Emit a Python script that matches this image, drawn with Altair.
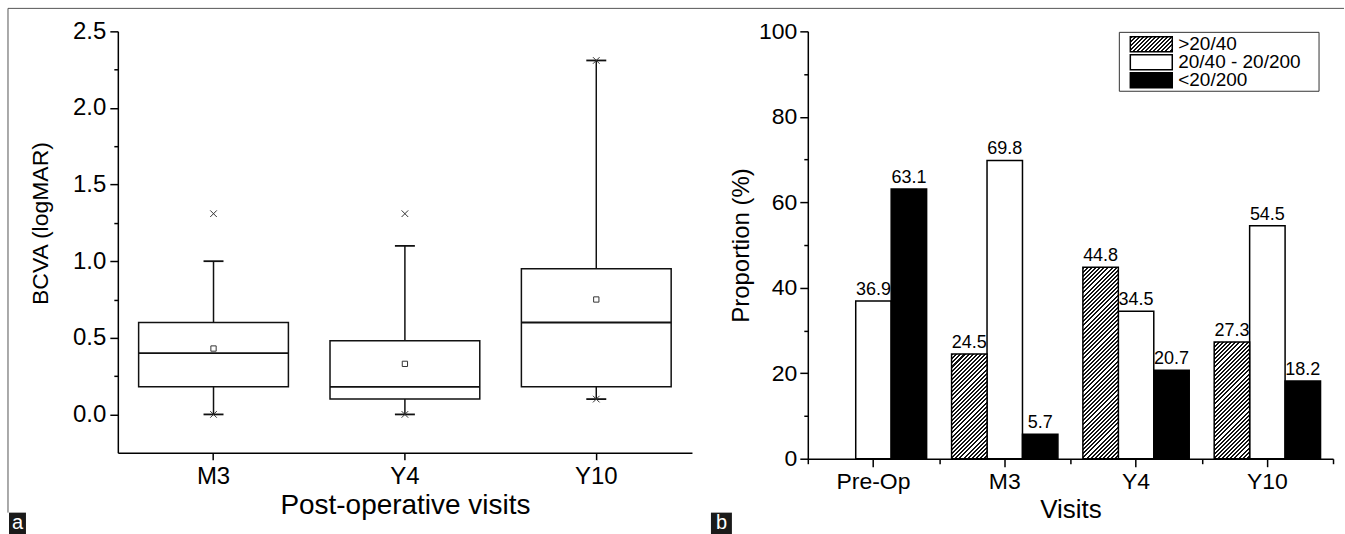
import math
import altair as alt
import pandas as pd

FONT = "Liberation Sans"

# ---------------- Panel a : box statistics ----------------
visits_a = ["M3", "Y4", "Y10"]
q1 = [0.18, 0.10, 0.18]
median = [0.40, 0.18, 0.60]
q3 = [0.60, 0.48, 0.95]
mean = [0.43, 0.33, 0.75]
whisker_low = [0.0, 0.0, 0.10]
whisker_high = [1.0, 1.10, 2.31]
cross_visit = ["M3", "M3", "Y4", "Y4", "Y10", "Y10"]
cross_value = [0.0, 1.31, 0.0, 1.31, 0.10, 2.31]
y_ticks_a = [0.0, 0.5, 1.0, 1.5, 2.0, 2.5]
y_minor_a = [0.25, 0.75, 1.25, 1.75, 2.25]

# ---------------- Panel b : grouped bars ----------------
visits_b = ["Pre-Op", "M3", "Y4", "Y10"]
series = [">20/40", "20/40 - 20/200", "<20/200"]
good = [None, 24.5, 44.8, 27.3]
mid = [36.9, 69.8, 34.5, 54.5]
poor = [63.1, 5.7, 20.7, 18.2]
y_ticks_b = [0, 20, 40, 60, 80, 100]
y_minor_b = [10, 30, 50, 70, 90]

# ---------------- layout constants ----------------
W_A, H_A = 575, 422
W_B, H_B = 526, 428
X_PAD_OUT = 0.352
BAR_W = W_B / len(visits_b) / (len(series) + 2 * X_PAD_OUT)
BOX_W = 150
CAP_W = 20
INK = "#111111"


def hatch(w, h, period=2.9):
    """diagonal '/' stripes as a hard-stop linear gradient for a w x h rect"""
    k = (w + h) / (w * w + h * h)
    n = max(1, round((w + h) / math.sqrt(2) / period))
    stops = []
    for i in range(n):
        a, b, c = i / n, (i + 0.5) / n, (i + 1) / n
        stops += [
            {"offset": a, "color": INK},
            {"offset": b, "color": INK},
            {"offset": b, "color": "#ffffff"},
            {"offset": c, "color": "#ffffff"},
        ]
    return {"gradient": "linear", "x1": 0, "y1": 0, "x2": k * w, "y2": k * h, "stops": stops}


# ======================= Panel a =======================
box_df = pd.DataFrame({
    "visit": visits_a, "q1": q1, "median": median, "q3": q3, "mean": mean,
    "lo": whisker_low, "hi": whisker_high,
})
cross_df = pd.DataFrame({"visit": cross_visit, "value": cross_value})
one = pd.DataFrame({"d": [0]})

xa = alt.X("visit:N", sort=visits_a,
           scale=alt.Scale(domain=visits_a, paddingInner=0, paddingOuter=0),
           axis=alt.Axis(title="Post-operative visits", labelAngle=0, tickSize=7,
                         labelPadding=5, titlePadding=3, labelFontSize=24,
                         titleFontSize=28))
ya_scale = alt.Scale(domain=[-0.25, 2.5], nice=False, zero=False)


def ya(field, axis=None):
    return alt.Y(field, type="quantitative", scale=ya_scale, axis=axis)


y_major_a = alt.Axis(values=y_ticks_a, format=".1f", title="BCVA (logMAR)", tickSize=8,
                     labelPadding=4, titlePadding=20, orient="left", labelFontSize=24,
                     titleFontSize=23, titleY=192)
y_minor_a = alt.Axis(values=y_minor_a, labels=False, domain=False, tickSize=4, title=None,
                     orient="left")

base_a = alt.Chart(box_df)
w_lo = base_a.mark_rule(color=INK, strokeWidth=1.5).encode(x=xa, y=ya("lo"), y2="q1")
w_hi = base_a.mark_rule(color=INK, strokeWidth=1.5).encode(x=xa, y=ya("q3"), y2="hi")
boxes = base_a.mark_bar(size=BOX_W, fill="white", stroke=INK, strokeWidth=1.5).encode(
    x=xa, y=ya("q1", y_major_a), y2="q3")
med = base_a.mark_tick(size=BOX_W, thickness=1.8, color=INK, opacity=1).encode(
    x=xa, y=ya("median"))
caps = base_a.transform_fold(["lo", "hi"], as_=["k", "v"]).mark_tick(
    size=CAP_W, thickness=1.8, color=INK, opacity=1).encode(x=xa, y=ya("v"))
means = base_a.mark_point(shape="square", size=28, filled=False, color="#333",
                          strokeWidth=1, opacity=1).encode(x=xa, y=ya("mean", y_minor_a))
crosses = alt.Chart(cross_df).mark_point(shape="M-1,-1L1,1M-1,1L1,-1", size=44, filled=False,
                                         color="#333", strokeWidth=1, opacity=1).encode(
    x=xa, y=ya("value"))

# decorations (figure frame + panel tag)
frame_top = alt.Chart(one).mark_rule(color="#555", strokeWidth=1).encode(
    x=alt.value(-110), x2=alt.value(1228), y=alt.value(-23))
frame_left = alt.Chart(one).mark_rule(color="#555", strokeWidth=1).encode(
    x=alt.value(-110), y=alt.value(-23), y2=alt.value(482))
tag_a = alt.Chart(one).mark_rect(color="#1a1a1a").encode(
    x=alt.value(-109), x2=alt.value(-92), y=alt.value(482), y2=alt.value(504))
tag_a_t = alt.Chart(one).mark_text(text="a", color="white", font=FONT, fontSize=20,
                                   align="center", baseline="middle").encode(
    x=alt.value(-100.5), y=alt.value(492))

left = alt.layer(w_lo, w_hi, boxes, med, caps, means, crosses,
                 frame_top, frame_left, tag_a, tag_a_t).resolve_axis(
    y="independent").properties(width=W_A, height=H_A)

# ======================= Panel b =======================
rows = []
for i, v in enumerate(visits_b):
    for s, arr in zip(series, [good, mid, poor]):
        if arr[i] is not None:
            rows.append({"visit": v, "series": s, "value": arr[i]})
df_b = pd.DataFrame(rows)

xb_scale = alt.Scale(domain=visits_b, paddingInner=0, paddingOuter=0)
xo_scale = alt.Scale(domain=series, paddingInner=0, paddingOuter=X_PAD_OUT)
yb_scale = alt.Scale(domain=[0, 100], nice=False)

x_major_b = alt.Axis(title="Visits", labelAngle=0, tickSize=8, labelPadding=4,
                     titlePadding=3, orient="bottom", labelFontSize=23, titleFontSize=26)
x_minor_b = alt.Axis(title=None, labels=False, domain=False, tickSize=5,
                     tickBand="extent", orient="bottom")
y_major_b = alt.Axis(values=y_ticks_b, format="d", title="Proportion (%)", tickSize=8,
                     labelPadding=3, titlePadding=5, orient="left", labelFontSize=23,
                     titleFontSize=24)
y_minor_b = alt.Axis(values=y_minor_b, labels=False, domain=False, tickSize=4, title=None,
                     orient="left")


def xb(axis=None):
    return alt.X("visit:N", sort=visits_b, scale=xb_scale, axis=axis)


def xo():
    return alt.XOffset("series:N", sort=series, scale=xo_scale)


def yb(axis=None):
    return alt.Y("value:Q", scale=yb_scale, axis=axis)


fill_scale = alt.Scale(domain=series[1:], range=["white", "black"])

plain = alt.Chart(df_b).transform_filter(
    alt.FieldOneOfPredicate(field="series", oneOf=series[1:])).mark_bar(
    stroke="black", strokeWidth=1.5).encode(
    x=xb(x_major_b), xOffset=xo(), y=yb(y_major_b),
    fill=alt.Fill("series:N", scale=fill_scale, legend=None))

hatched_layers = []
for i, v in enumerate(visits_b):
    if good[i] is None:
        continue
    h = good[i] / 100 * H_B
    hatched_layers.append(
        alt.Chart(df_b).transform_filter(
            f"datum.series === '{series[0]}' && datum.visit === '{v}'").mark_bar(
            fill=hatch(BAR_W, h), stroke="black", strokeWidth=1.5).encode(
            x=xb(), xOffset=xo(), y=yb()))

labels = alt.Chart(df_b).mark_text(baseline="bottom", dy=-2, font=FONT, fontSize=18,
                                   color="black").encode(
    x=xb(x_minor_b), xOffset=xo(), y=yb(y_minor_b),
    text=alt.Text("value:Q", format=".1f"))

inner_b = alt.layer(plain, *hatched_layers, labels).resolve_axis(x="independent",
                                                                  y="independent")

# legend (own band scale for its rows)
leg_df = pd.DataFrame({"series": series})
leg_y = alt.Y("series:N", sort=series,
              scale=alt.Scale(domain=series, range=[4, 58], paddingInner=0.167,
                              paddingOuter=0.083), axis=None)
leg_box = alt.Chart(one).mark_rect(fill="white", stroke="#333", strokeWidth=1).encode(
    x=alt.value(312), x2=alt.value(512), y=alt.value(1), y2=alt.value(60))
leg_plain = alt.Chart(leg_df).transform_filter(
    alt.FieldOneOfPredicate(field="series", oneOf=series[1:])).mark_rect(
    stroke="black", strokeWidth=1.5).encode(
    x=alt.value(323), x2=alt.value(365), y=leg_y,
    fill=alt.Fill("series:N", scale=fill_scale, legend=None))
leg_hatch = alt.Chart(leg_df).transform_filter(
    f"datum.series === '{series[0]}'").mark_rect(
    fill=hatch(42, 15), stroke="black", strokeWidth=1.5).encode(
    x=alt.value(323), x2=alt.value(365), y=leg_y)
leg_text = alt.Chart(leg_df).mark_text(align="left", baseline="middle", font=FONT,
                                       fontSize=19, color="black").encode(
    x=alt.value(371), y=leg_y, text="series:N")

tag_b = alt.Chart(one).mark_rect(color="#1a1a1a").encode(
    x=alt.value(-97), x2=alt.value(-76), y=alt.value(482), y2=alt.value(504))
tag_b_t = alt.Chart(one).mark_text(text="b", color="white", font=FONT, fontSize=20,
                                   align="center", baseline="middle").encode(
    x=alt.value(-86.5), y=alt.value(492))

right = alt.layer(inner_b, leg_box, leg_plain, leg_hatch, leg_text, tag_b, tag_b_t).resolve_scale(
    y="independent").properties(width=W_B, height=H_B)

chart = alt.hconcat(left, right, spacing=116, bounds="flush").properties(
    padding={"left": 7, "top": 7, "right": 0, "bottom": 0}
).configure(font=FONT).configure_view(stroke=None).configure_axis(
    labelFont=FONT, titleFont=FONT, labelFontSize=23, titleFontSize=22,
    titleFontWeight="normal", labelColor="black", titleColor="black",
    domainColor="black", tickColor="black", domainWidth=1.5, tickWidth=1.5, grid=False,
)

chart.save("out.html", embed_options={"renderer": "svg", "actions": False})
